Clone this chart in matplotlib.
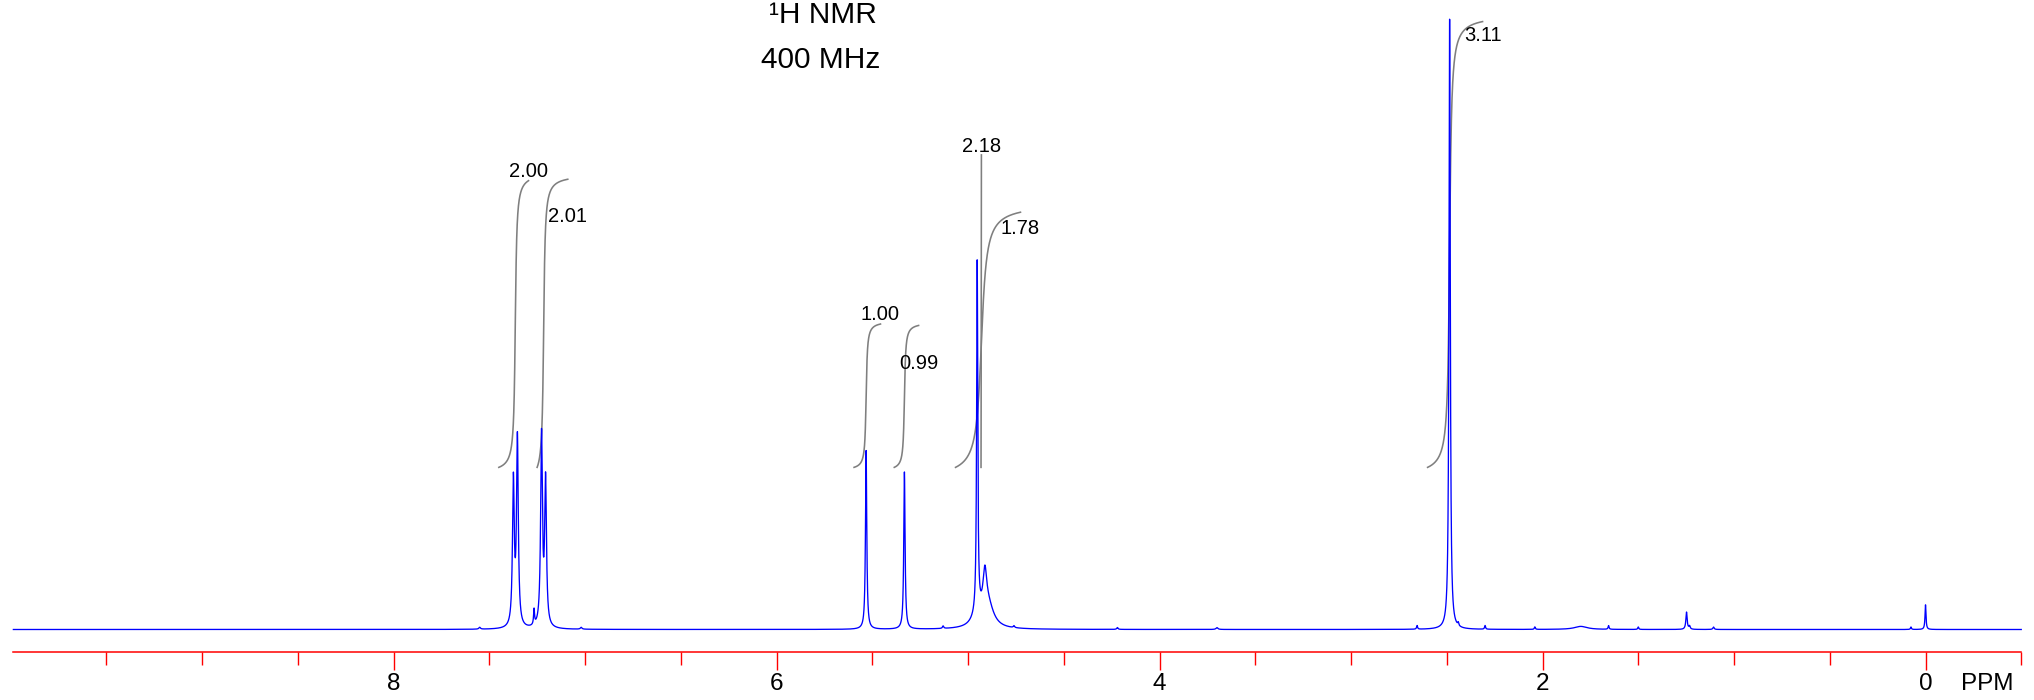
import numpy as np
import matplotlib
matplotlib.use("Agg")
import matplotlib.pyplot as plt
from matplotlib.ticker import FixedLocator, NullFormatter

plt.rcParams["font.family"] = ["Liberation Sans", "DejaVu Sans"]

# Resolved resonances: chemical shift (ppm), peak height (fraction of max), half width (ppm)
peak_ppm = [7.374, 7.353, 7.227, 7.206, 7.266,
            5.532, 5.332,
            4.952, 4.950, 4.912, 4.895,
            2.485, 2.440, 2.655, 2.300, 2.040,
            1.800, 1.655, 1.500, 1.248, 1.232, 1.107,
            0.076, 0.000,
            7.550, 7.020, 5.130, 4.760, 4.220, 3.700]
peak_height = [0.235, 0.305, 0.310, 0.235, 0.025,
               0.290, 0.255,
               0.570, 0.015, 0.065, 0.035,
               0.990, 0.005, 0.006, 0.006, 0.004,
               0.005, 0.006, 0.004, 0.028, 0.005, 0.004,
               0.004, 0.040,
               0.003, 0.003, 0.004, 0.003, 0.003, 0.003]
peak_hwhm = [0.0055, 0.0055, 0.0055, 0.0055, 0.003,
             0.004, 0.004,
             0.0035, 0.035, 0.012, 0.035,
             0.004, 0.003, 0.003, 0.003, 0.003,
             0.040, 0.003, 0.003, 0.004, 0.004, 0.004,
             0.003, 0.003,
             0.005, 0.005, 0.004, 0.004, 0.004, 0.006]

# Integrations: value, region (ppm, high -> low), centre of the signal
int_labels = ["2.00", "2.01", "1.00", "0.99", "2.18", "1.78", "3.11"]
int_start = [7.450, 7.250, 5.595, 5.385, 4.932, 5.065, 2.600]
int_end = [7.295, 7.090, 5.457, 5.258, 4.930, 4.726, 2.313]
int_centre = [7.364, 7.216, 5.532, 5.332, 4.931, 4.930, 2.485]
int_width = [0.006, 0.006, 0.005, 0.005, 0.0005, 0.020, 0.008]

major_ticks = [0, 2, 4, 6, 8]
tick_labels = ["0", "2", "4", "6", "8"]

# ---- figure layout (pixels) ----
W, H = 2034, 700
fig = plt.figure(figsize=(W / 100, H / 100), dpi=100)
x0_px, ppm_px = 1925.5, 191.5          # pixel of 0 ppm, pixels per ppm
x_hi, x_lo = 9.985, -0.5
left = (x0_px - x_hi * ppm_px) / W
width = (x_hi - x_lo) * ppm_px / W
base_px, top_px = 629.5, 13.0           # y of zero intensity / full intensity (from top)
bottom = (H - base_px) / H
height = (base_px - top_px) / H
ax = fig.add_axes([left, bottom, width, height])
ax.set_xlim(x_hi, x_lo)
ax.set_ylim(0, 1)

# spectrum as a sum of Lorentzian lines
ppm = np.linspace(x_hi, x_lo, 42000)
spec = np.zeros_like(ppm)
for c, h, g in zip(peak_ppm, peak_height, peak_hwhm):
    spec += h / (1.0 + ((ppm - c) / g) ** 2)
ax.plot(ppm, spec, color="#0000ff", lw=0.95, clip_on=False, zorder=3)

# integral traces
int_base = 0.263
int_scale = 0.2325
label_dy_px = [9, -37, 10, -38, 8, -16, -14]
for lab, s, e, c, g, dy in zip(int_labels, int_start, int_end, int_centre,
                               int_width, label_dy_px):
    xs = np.linspace(s, e, 500)
    cum = np.arctan((s - c) / g) - np.arctan((xs - c) / g)
    cum = cum / cum[-1]
    top = int_base + float(lab) * int_scale
    ys = int_base + (top - int_base) * cum
    ax.plot(xs, ys, color="#7f7f7f", lw=1.15, zorder=2, clip_on=False)
    ax.annotate(lab, xy=(e, top), xytext=(0, dy * 0.72), textcoords="offset points",
                ha="center", va="center", fontsize=14.5, color="black")

# red ppm scale
for sp in ["top", "left", "right"]:
    ax.spines[sp].set_visible(False)
ax.spines["bottom"].set_position(("outward", 22.5 * 0.72))
ax.spines["bottom"].set_color("#ff0000")
ax.spines["bottom"].set_linewidth(1.1)
ax.set_yticks([])
ax.xaxis.set_major_locator(FixedLocator(major_ticks))
ax.set_xticklabels(tick_labels)
minor = [v for v in np.arange(-0.5, 9.51, 0.5) if v not in major_ticks]
ax.xaxis.set_minor_locator(FixedLocator(minor))
ax.xaxis.set_minor_formatter(NullFormatter())
ax.tick_params(axis="x", which="major", length=13, width=1.0, color="#ff0000",
               labelsize=17.5, labelcolor="black", pad=2)
ax.tick_params(axis="x", which="minor", length=9, width=1.0, color="#ff0000")
ax.patch.set_visible(False)

fig.text(1987 / W, 1 - 684 / H, "PPM", ha="center", va="center", fontsize=17.5)

# title block
fig.text(823 / W, 1 - 23 / H, "\u00b9H NMR", ha="center", va="baseline", fontsize=21.5)
fig.text(821 / W, 1 - 68.3 / H, "400 MHz", ha="center", va="baseline", fontsize=21.5)

fig.savefig("out.png", dpi=100, facecolor="white")
